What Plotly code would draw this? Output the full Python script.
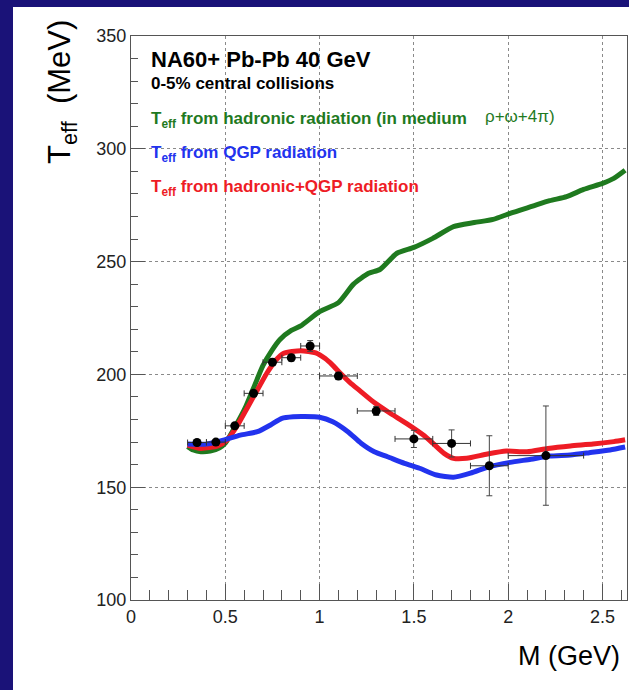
import plotly.graph_objects as go

# ---- data ----
data_M = [0.35, 0.45, 0.55, 0.65, 0.75, 0.85, 0.95, 1.10, 1.30, 1.50, 1.70, 1.90, 2.20]
data_T = [169.8, 170.0, 177.2, 191.6, 205.4, 207.4, 212.6, 199.3, 183.8, 171.4, 169.4, 159.5, 164.0]
data_dM = [0.05, 0.05, 0.05, 0.05, 0.05, 0.05, 0.05, 0.10, 0.10, 0.10, 0.10, 0.10, 0.20]
data_dT = [1.0, 1.0, 1.2, 1.5, 1.5, 1.5, 2.4, 1.6, 2.0, 3.8, 6.0, 13.3, 22.0]

green_M = [0.30, 0.33, 0.37, 0.42, 0.47, 0.50, 0.54, 0.58, 0.61, 0.65, 0.70, 0.75, 0.79, 0.85, 0.90,
           1.00, 1.10, 1.18, 1.26, 1.32, 1.41, 1.50, 1.60, 1.71, 1.82, 1.92, 2.01, 2.13, 2.22, 2.31,
           2.40, 2.50, 2.56, 2.62]
green_T = [168.0, 166.5, 165.7, 166.0, 167.5, 169.5, 175.0, 181.0, 186.0, 194.0, 204.0, 211.0, 215.5, 219.5, 221.5,
           227.8, 231.8, 240.0, 244.8, 246.5, 253.7, 256.3, 260.3, 265.5, 267.3, 268.7, 271.4, 274.6, 277.0, 278.8,
           282.0, 284.7, 286.9, 290.5]

red_M = [0.30, 0.37, 0.46, 0.51, 0.56, 0.62, 0.67, 0.72, 0.77, 0.81, 0.90, 0.98, 1.03, 1.07, 1.11, 1.16, 1.21,
         1.29, 1.37, 1.46, 1.55, 1.60, 1.66, 1.71, 1.78, 1.89, 1.99, 2.10, 2.21, 2.33, 2.45, 2.56, 2.62]
red_T = [168.7, 167.2, 168.3, 171.0, 176.8, 185.7, 193.1, 200.5, 206.5, 209.4, 210.5, 209.5, 207.0, 204.0, 200.5, 196.5, 193.0,
         187.5, 183.0, 178.3, 173.1, 169.5, 165.0, 162.8, 162.8, 164.7, 166.0, 165.7, 167.2, 168.3, 169.1, 170.2, 171.0]

blue_M = [0.30, 0.40, 0.49, 0.58, 0.67, 0.74, 0.80, 0.86, 0.92, 1.00, 1.07, 1.15, 1.22, 1.29, 1.36, 1.45,
          1.53, 1.62, 1.71, 1.80, 1.90, 2.01, 2.12, 2.22, 2.33, 2.43, 2.54, 2.62]
blue_T = [169.1, 169.1, 170.9, 173.1, 174.6, 177.6, 180.5, 181.2, 181.3, 181.0, 179.0, 174.6, 169.5, 165.7, 163.5, 160.6,
          158.4, 155.4, 154.4, 156.2, 159.1, 161.0, 162.4, 163.8, 164.3, 165.3, 166.5, 167.8]

x_tickvals = [0, 0.5, 1, 1.5, 2, 2.5]
x_ticktext = ["0", "0.5", "1", "1.5", "2", "2.5"]
y_tickvals = [100, 150, 200, 250, 300, 350]
y_ticktext = ["100", "150", "200", "250", "300", "350"]

GREEN = "#1f7a1f"
BLUE = "#2233ee"
RED = "#ee1c25"
NAVY = "#1a1278"
FONT = "Liberation Sans, Arial, Helvetica, sans-serif"

fig = go.Figure()
for xs, ys, col in [(green_M, green_T, GREEN), (red_M, red_T, RED), (blue_M, blue_T, BLUE)]:
    fig.add_trace(go.Scatter(x=xs, y=ys, mode="lines",
                             line=dict(color=col, width=5, shape="spline", smoothing=0.6),
                             showlegend=False, hoverinfo="skip"))
fig.add_trace(go.Scatter(
    x=data_M, y=data_T, mode="markers",
    marker=dict(color="black", size=9),
    error_x=dict(type="data", array=data_dM, color="#333333", thickness=1, width=3),
    error_y=dict(type="data", array=data_dT, color="#444444", thickness=1, width=3),
    showlegend=False))

W, H = 629, 690
L, R, T, B = 131, 2, 36, 90
pw, ph = W - L - R, H - T - B

def px(x):
    return (x - L) / pw

def py(y):
    return (H - B - y) / ph

fig.add_shape(type="rect", xref="paper", yref="paper", x0=px(13), x1=1.2, y0=-0.4, y1=py(7),
              fillcolor="white", line=dict(width=0), layer="below")

ann = [
    dict(text="<b>NA60+ Pb-Pb 40 GeV</b>", x=px(149), y=py(60), size=22, color="black"),
    dict(text="<b>0-5% central collisions</b>", x=px(149), y=py(83), size=17, color="black"),
    dict(text="<b>T<sub>eff</sub> from hadronic radiation (in medium</b>", x=px(149), y=py(120), size=17, color=GREEN),
    dict(text="\u03c1+\u03c9+4\u03c0)", x=px(483), y=py(117), size=17, color=GREEN),
    dict(text="<b>T<sub>eff</sub> from QGP radiation</b>", x=px(149), y=py(154), size=17, color=BLUE),
    dict(text="<b>T<sub>eff</sub> from hadronic+QGP radiation</b>", x=px(149), y=py(188), size=17, color=RED),
]
for a in ann:
    fig.add_annotation(text=a["text"], x=a["x"], y=a["y"], xref="paper", yref="paper",
                       xanchor="left", yanchor="middle", showarrow=False,
                       font=dict(family=FONT, size=a["size"], color=a["color"]))

fig.add_annotation(text="T<sub>eff</sub>\u00a0\u00a0(MeV)", x=px(62), y=py(18), xref="paper", yref="paper",
                   xanchor="center", yanchor="top", textangle=-90, showarrow=False,
                   font=dict(family=FONT, size=31, color="black"))
fig.add_annotation(text="M (GeV)", x=px(622), y=py(656), xref="paper", yref="paper",
                   xanchor="right", yanchor="middle", showarrow=False,
                   font=dict(family=FONT, size=27, color="black"))

axis_common = dict(showline=True, linecolor="#555555", linewidth=1, mirror=True,
                   ticks="inside", tickcolor="#555555", tickwidth=1,
                   showgrid=True, gridcolor="#8a8a8a", griddash="dot", gridwidth=1,
                   zeroline=False, tickfont=dict(family=FONT, size=18, color="#222222"))

fig.update_xaxes(range=[0, 2.63], tickvals=x_tickvals, ticktext=x_ticktext, ticklen=16,
                 minor=dict(dtick=0.1, tick0=0, ticks="inside", ticklen=10, tickcolor="#555555", showgrid=False),
                 **axis_common)
fig.update_yaxes(range=[100, 350], tickvals=y_tickvals, ticktext=y_ticktext, ticklen=14,
                 minor=dict(dtick=10, tick0=100, ticks="inside", ticklen=7, tickcolor="#555555", showgrid=False),
                 **axis_common)

fig.update_layout(width=W, height=H, margin=dict(l=L, r=R, t=T, b=B),
                  paper_bgcolor=NAVY, plot_bgcolor="white", showlegend=False)

fig.write_html("out.html")
